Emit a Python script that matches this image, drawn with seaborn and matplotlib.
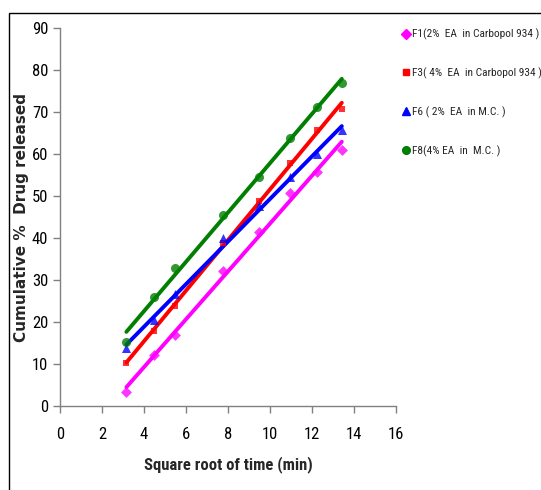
import matplotlib
matplotlib.use("Agg")
import matplotlib.pyplot as plt
from matplotlib.lines import Line2D
from matplotlib.patches import Rectangle
import pandas as pd
import seaborn as sns

# square root of time (min)
sqrt_time = [3.16, 4.47, 5.48, 7.75, 9.49, 10.95, 12.25, 13.42]

f1 = [3.3, 12.2, 16.9, 32.1, 41.5, 50.6, 55.8, 60.9]
f3 = [10.3, 17.8, 23.9, 38.8, 48.9, 57.8, 65.8, 70.8]
f6 = [13.7, 20.4, 26.6, 39.9, 47.6, 54.6, 59.9, 65.6]
f8 = [15.3, 26.0, 32.9, 45.5, 54.6, 63.8, 71.1, 76.8]

labels = [
    "F1(2%  EA  in Carbopol 934 )",
    "F3( 4%  EA  in Carbopol 934 )",
    "F6 ( 2%  EA  in M.C. )",
    "F8(4% EA  in  M.C. )",
]
colors = ["#FF00FF", "#FF0000", "#0000FF", "#007F00"]
markers = ["D", "s", "^", "o"]
msizes = [5.5, 4.5, 6.5, 6.5]

NARROW = ["Liberation Sans Narrow", "Roboto Condensed", "Liberation Sans", "DejaVu Sans"]

sns.set_style("ticks")
plt.rcParams["font.family"] = NARROW
plt.rcParams["font.stretch"] = "condensed"

fig = plt.figure(figsize=(5.41, 4.90), dpi=100)
ax = fig.add_axes([60 / 541, 1 - 406 / 490, 336 / 541, 378 / 490])

# outer frame of the original chart area
fig.patches.append(Rectangle((9 / 541, -0.1), 1.2, 1.1 - 13 / 490,
                             transform=fig.transFigure, fill=False,
                             edgecolor="#000000", linewidth=1.0))

handles = []
for ys, lab, c, m, ms in zip([f1, f3, f6, f8], labels, colors, markers, msizes):
    df = pd.DataFrame({"x": sqrt_time, "y": ys})
    sns.regplot(data=df, x="x", y="y", ax=ax, ci=None, truncate=True,
                marker=m, color=c,
                scatter_kws={"s": ms ** 2, "linewidths": 0, "zorder": 3},
                line_kws={"linewidth": 2.8, "zorder": 2})
    handles.append(Line2D([], [], linestyle="none", marker=m, color=c,
                          markersize=ms * 0.85, label=lab))

ax.set_xlim(0, 16)
ax.set_ylim(0, 90)
ax.set_xticks(range(0, 17, 2))
ax.set_yticks(range(0, 91, 10))
sns.despine(ax=ax)
for s in ["left", "bottom"]:
    ax.spines[s].set_color("#808080")
    ax.spines[s].set_linewidth(1.0)
ax.tick_params(axis="both", colors="#808080", labelcolor="#000000",
               labelsize=12, length=5, width=1)
ax.tick_params(axis="x", pad=10)

ax.set_xlabel("Square root of time (min)", fontsize=12, fontweight="bold",
              labelpad=10)
ax.set_ylabel("Cumulative %  Drug released", fontsize=11, fontweight="bold",
              family="DejaVu Sans", fontstretch="normal", labelpad=2)

fig.legend(handles=handles, loc="upper left", bbox_to_anchor=(397 / 541, 1 - 24 / 490),
           frameon=False, fontsize=8.2, handletextpad=0.15, handlelength=0.8,
           labelspacing=2.4, borderaxespad=0)

fig.savefig("out.png", dpi=100)
